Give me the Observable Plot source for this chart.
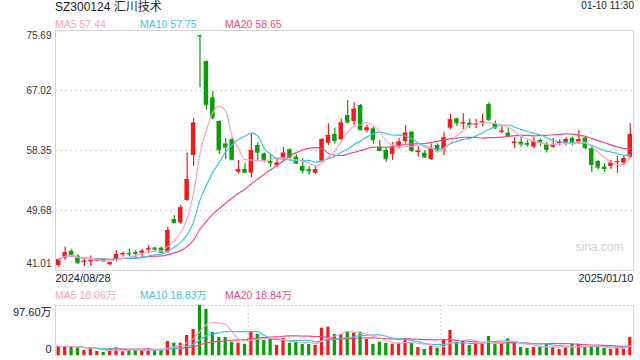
<!DOCTYPE html>
<html><head><meta charset="utf-8">
<script src="https://cdn.jsdelivr.net/npm/d3@7"></script>
<script src="https://cdn.jsdelivr.net/npm/@observablehq/plot@0.6"></script>
<style>
body{margin:0;background:#fff;}
#wrap{position:relative;width:640px;height:360px;font-family:"Liberation Sans",Arial,"Noto Sans CJK SC",sans-serif;color:#333;overflow:hidden;background:#fff}
.abs{position:absolute;white-space:nowrap;line-height:12px;}
#main,#vol{position:absolute;left:0;}
#main{top:0;} #vol{top:290px;}
</style></head><body><div id="wrap">
<div class="abs" style="left:55px;top:1px;font-size:12px;line-height:13px;color:#222">SZ300124 汇川技术</div>
<div class="abs" style="right:6px;top:0px;font-size:10px;color:#222">01-10 11:30</div>
<div id="main"></div>
<div id="vol"></div>
<div id="leg1"></div>
<div id="leg2"></div>
</div>
<script>
const title = "SZ300124 汇川技术";
const dateLabels = ["2024/08/28", "2025/01/10"];
const priceTicks = [41.01, 49.68, 58.35, 67.02, 75.69];
const volMax = 97.6;
const volTickLabels = ["0", "97.60万"];
const maNames = ["MA5", "MA10", "MA20"];
const priceMaLabels = ["57.44", "57.75", "58.65"];
const volMaLabels = ["18.06万", "18.83万", "18.84万"];
const volGridX = [30, 60];

const open = [41.73,42.79,43.81,43.08,42.20,42.30,42.36,42.60,41.85,42.60,43.28,43.50,43.62,43.50,44.00,44.25,44.24,43.70,48.38,47.90,
51.13,57.63,74.97,71.21,65.96,62.54,59.30,59.94,55.20,55.60,55.07,59.07,57.87,56.76,56.20,57.24,58.45,57.40,56.04,55.60,
55.07,56.80,59.40,60.66,59.90,63.40,62.54,64.85,61.20,61.48,58.83,58.35,57.77,59.00,59.65,61.00,58.06,57.96,57.05,59.07,
58.35,61.57,62.93,62.20,62.30,62.05,62.36,64.98,62.20,61.00,60.85,59.40,59.55,59.40,58.83,59.80,59.22,58.83,59.40,59.46,
60.13,59.55,60.13,58.60,56.76,55.94,56.04,56.57,56.52,57.40];
const high = [42.70,44.38,44.00,43.30,42.85,43.10,42.70,42.75,42.30,43.90,43.70,44.10,43.90,44.05,44.60,44.35,44.40,47.27,48.96,50.40,
58.00,63.02,74.97,71.30,66.92,62.60,60.04,60.20,56.90,56.50,60.76,59.46,58.00,57.63,57.30,58.80,58.60,57.75,57.15,55.99,
56.10,60.10,62.20,61.60,62.90,65.57,65.30,65.00,62.00,61.70,59.80,58.80,59.50,60.10,61.96,61.10,58.90,58.30,59.30,59.30,
61.00,63.55,63.00,63.65,62.90,62.85,63.60,65.30,62.60,61.80,61.60,60.27,60.30,59.80,60.27,60.00,59.55,60.10,59.90,60.27,
60.30,61.24,60.30,58.90,56.90,56.40,56.90,57.50,57.60,62.20];
const low = [41.49,42.45,42.93,41.90,41.60,41.60,42.30,42.25,41.70,42.20,42.95,43.00,42.90,42.80,43.40,43.70,43.50,43.50,47.76,47.70,
51.00,56.04,67.41,64.23,62.80,57.73,57.00,56.90,54.98,55.00,54.40,56.90,56.55,55.90,55.90,56.90,56.90,56.30,54.97,54.80,
54.90,56.70,59.07,59.30,59.80,62.20,61.96,61.20,60.90,59.30,58.30,56.67,56.90,58.55,59.30,58.05,57.40,57.20,56.90,58.00,
57.63,61.34,61.80,61.34,61.50,61.50,61.80,62.60,61.35,60.80,60.50,58.60,58.85,58.85,58.60,58.95,58.00,58.60,59.00,59.00,
59.00,59.30,58.50,55.20,55.56,55.20,55.60,55.07,56.20,57.15];
const close = [42.56,43.57,43.33,42.12,42.35,42.45,42.56,42.40,42.10,43.30,43.45,43.40,43.50,43.80,44.14,44.10,43.66,46.79,47.90,50.07,
54.16,62.30,74.90,64.95,63.07,58.45,58.83,57.01,55.60,55.20,58.35,58.10,57.00,56.57,56.52,57.96,57.40,56.52,55.46,55.40,
55.56,59.94,60.52,59.80,62.30,62.44,64.30,61.34,61.60,59.90,58.35,57.15,58.74,59.55,60.85,58.35,58.25,57.39,58.60,58.45,
60.18,62.78,62.35,62.36,62.05,62.20,62.50,62.78,61.63,61.15,60.52,59.55,59.30,59.25,59.65,59.55,58.50,59.17,59.55,59.94,
59.55,59.90,58.74,56.33,55.94,55.75,56.52,56.76,57.15,60.66];
const volume = [17.6,17.6,17.6,15.0,9.8,13.0,7.8,5.9,12.4,15.0,7.2,11.0,11.0,11.0,13.0,11.0,11.0,27.3,24.0,24.0,
39.0,50.8,97.6,89.8,44.9,35.1,35.1,26.0,24.0,22.0,45.5,41.0,29.3,31.9,19.5,33.2,24.0,26.0,21.5,21.5,
19.5,53.3,55.3,41.0,41.0,45.5,43.6,45.5,31.2,22.0,26.0,24.0,22.0,24.0,32.5,24.0,15.6,11.7,17.6,14.3,
30.6,48.8,26.0,29.3,19.5,22.0,24.0,37.1,22.0,22.0,32.5,26.0,15.6,13.7,15.6,17.6,22.0,15.6,11.7,15.6,
22.0,22.0,15.6,17.6,15.6,13.7,11.7,15.6,13.7,35.1];

const RED = "#f21b1b", GREEN = "#0a9c0a";
const MA_COLORS = ["#f7a3c3", "#3fc3e3", "#ec4a80"];
const FONT = '"Liberation Sans", Arial, "Noto Sans CJK SC", sans-serif';
const N = close.length;

function ma(arr, n) {
  return arr.map((_, i) => d3.mean(arr.slice(Math.max(0, i - n + 1), i + 1)));
}
const pMA = [ma(close, 5), ma(close, 10), ma(close, 20)];
const vMA = [ma(volume, 5), ma(volume, 10), ma(volume, 20)];
const bars = close.map((c, i) => ({
  i, open: open[i], high: high[i], low: low[i], close: c, vol: volume[i],
  dir: c > open[i] ? "up" : "down",
  ma5: pMA[0][i], ma10: pMA[1][i], ma20: pMA[2][i],
  v5: vMA[0][i], v10: vMA[1][i], v20: vMA[2][i]
}));
const colorScale = {domain: ["up", "down"], range: [RED, GREEN]};

const main = Plot.plot({
  width: 640, height: 285,
  marginTop: 30, marginBottom: 15, marginLeft: 55, marginRight: 7,
  x: {domain: [0, N], axis: null},
  y: {domain: [priceTicks[0], priceTicks[priceTicks.length - 1]], axis: null},
  color: colorScale,
  style: {fontFamily: FONT, fontSize: "10px", color: "#333", background: "transparent", overflow: "visible"},
  marks: [
    Plot.ruleY(priceTicks.slice(1, -1), {stroke: "#dcdcdc", strokeWidth: 1.5, strokeDasharray: "2,3"}),
    Plot.frame({stroke: "#d4d4d4"}),
    Plot.text(["sina.com"], {frameAnchor: "bottom-right", dx: -10, dy: -20, textAnchor: "end", fill: "#cfcfcf", fontSize: 12}),
    Plot.ruleX(bars, {x: d => d.i + 0.5, y1: "low", y2: "high", stroke: "dir", strokeWidth: 1.2}),
    Plot.rect(bars, {x1: d => d.i + 0.15, x2: d => d.i + 0.85, y1: "open", y2: "close", fill: "dir"}),
    Plot.ruleY(bars, {x1: d => d.i + 0.15, x2: d => d.i + 0.85, y: "close", stroke: "dir"}),
    Plot.line(bars, {x: d => d.i + 0.5, y: "ma20", stroke: MA_COLORS[2], strokeWidth: 1.2, curve: "monotone-x"}),
    Plot.line(bars, {x: d => d.i + 0.5, y: "ma10", stroke: MA_COLORS[1], strokeWidth: 1.2, curve: "monotone-x"}),
    Plot.line(bars, {x: d => d.i + 0.5, y: "ma5", stroke: MA_COLORS[0], strokeWidth: 1.2, curve: "monotone-x"}),
    Plot.text(priceTicks.slice(1, -1), {x: () => 0, y: d => d, text: d => d.toFixed(2), textAnchor: "end", dx: -4, fill: "#333"}),
    Plot.text([priceTicks[priceTicks.length - 1]], {x: () => 0, y: d => d, text: d => d.toFixed(2), textAnchor: "end", dx: -4, dy: 5, fill: "#333"}),
    Plot.text([priceTicks[0]], {x: () => 0, y: d => d, text: d => d.toFixed(2), textAnchor: "end", dx: -4, dy: -7, fill: "#333"}),
    Plot.text([dateLabels[0]], {x: () => 0, y: () => priceTicks[0], textAnchor: "start", dy: 8, fontSize: 11, fill: "#222"}),
    Plot.text([dateLabels[1]], {x: () => N, y: () => priceTicks[0], textAnchor: "end", dy: 8, fontSize: 11, fill: "#222"})
  ]
});
document.getElementById("main").appendChild(main);

const vol = Plot.plot({
  width: 640, height: 70,
  marginTop: 15, marginBottom: 5, marginLeft: 55, marginRight: 7,
  x: {domain: [0, N], axis: null},
  y: {domain: [0, volMax], axis: null},
  color: colorScale,
  style: {fontFamily: FONT, fontSize: "10px", color: "#333", background: "transparent", overflow: "visible"},
  marks: [
    Plot.ruleY([volMax], {stroke: "#d4d4d4", strokeWidth: 1.2, strokeDasharray: "2,2"}),
    Plot.ruleX(volGridX, {x: d => d, stroke: "#d4d4d4", strokeWidth: 1.2, strokeDasharray: "2,2"}),
    Plot.ruleX([0, N], {x: d => d, stroke: "#d4d4d4"}),
    Plot.ruleY([0], {stroke: "#e4e4e4"}),
    Plot.rect(bars, {x1: d => d.i + 0.25, x2: d => d.i + 0.75, y1: 0, y2: "vol", fill: "dir"}),
    Plot.line(bars, {x: d => d.i + 0.5, y: "v20", stroke: MA_COLORS[2], strokeWidth: 1.2, curve: "monotone-x"}),
    Plot.line(bars, {x: d => d.i + 0.5, y: "v10", stroke: MA_COLORS[1], strokeWidth: 1.2, curve: "monotone-x"}),
    Plot.line(bars, {x: d => d.i + 0.5, y: "v5", stroke: MA_COLORS[0], strokeWidth: 1.2, curve: "monotone-x"}),
    Plot.text([volMax], {x: () => 0, y: d => d, text: () => volTickLabels[1], textAnchor: "end", dx: -4, dy: 7, fontSize: 11, fill: "#222"}),
    Plot.text([0], {x: () => 0, y: d => d, text: () => volTickLabels[0], textAnchor: "end", dx: -4, dy: -6, fontSize: 11, fill: "#222"})
  ]
});
document.getElementById("vol").appendChild(vol);

function legend(id, top, values) {
  const el = document.getElementById(id);
  const lefts = [55, 140, 225];
  maNames.forEach((name, k) => {
    const s = document.createElement("div");
    s.className = "abs";
    s.style.left = lefts[k] + "px";
    s.style.top = top + "px";
    s.style.fontSize = "10.5px";
    s.style.color = MA_COLORS[k];
    s.textContent = name + " " + values[k];
    el.appendChild(s);
  });
}
legend("leg1", 18, priceMaLabels);
legend("leg2", 289, volMaLabels);
</script></body></html>
